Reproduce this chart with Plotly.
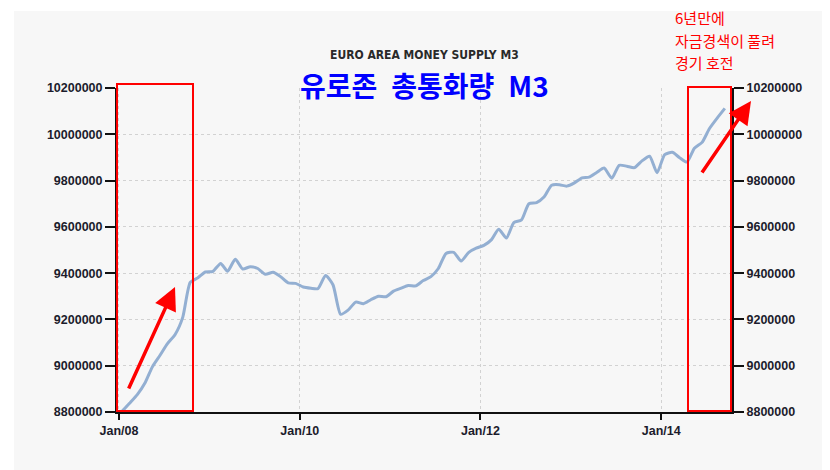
import plotly.graph_objects as go
import pandas as pd

# ---- data (monthly, Jan 2008 - Sep 2014), EUR millions ----
m3_values = [
    8805, 8840, 8875, 8925, 8995, 9045, 9095, 9135, 9210, 9360, 9380, 9405,
    9408, 9442, 9408, 9460, 9418, 9428, 9420, 9395, 9404, 9385, 9358, 9356,
    9340, 9335, 9333, 9390, 9350, 9222, 9240, 9275, 9268, 9285, 9300, 9298,
    9322, 9335, 9347, 9345, 9368, 9385, 9420, 9485, 9490, 9452, 9490, 9508,
    9520, 9545, 9590, 9552, 9618, 9630, 9700, 9705, 9730, 9780, 9782, 9776,
    9790, 9812, 9815, 9835, 9854, 9810, 9866, 9862, 9856, 9885, 9905, 9834,
    9912, 9922, 9900, 9880, 9940, 9965, 10025, 10070, 10112,
]
m3_values = [v * 1000 for v in m3_values]
dates = pd.date_range("2008-01-01", periods=len(m3_values), freq="MS") + pd.Timedelta(days=14)

y_ticks = [8800000, 9000000, 9200000, 9400000, 9600000, 9800000, 10000000, 10200000]
x_ticks = ["2008-01-01", "2010-01-01", "2012-01-01", "2014-01-01"]
x_tick_labels = ["Jan/08", "Jan/10", "Jan/12", "Jan/14"]

title_en = "EURO AREA MONEY SUPPLY M3"
title_ko = "유로존\u2002총통화량\u2002M3"
note_lines = ["6년만에", "자금경색이 풀려", "경기 호전"]

# ---- layout helpers (reference pixel -> paper) ----
W, H = 830, 470
OFF = 8  # page body margin offset
FW, FH = W + OFF, H + OFF
L, R, T, B = 117, 732, 88, 412


def px(p):
    return (p - L) / (R - L)


def py(p):
    return (B - p) / (B - T)


fig = go.Figure()
fig.add_trace(go.Scatter(
    x=dates, y=m3_values, mode="lines",
    line=dict(color="#93AFD2", width=3, shape="spline", smoothing=0.6),
    hoverinfo="x+y", showlegend=False,
))
fig.add_trace(go.Scatter(
    x=dates, y=m3_values, mode="lines", yaxis="y2",
    line=dict(color="rgba(0,0,0,0)", width=0), hoverinfo="skip", showlegend=False,
))

tickfont = dict(family="Liberation Sans", size=12.5, color="#1c1c2c", weight="bold")

fig.update_layout(
    width=FW, height=FH,
    margin=dict(l=L - OFF, r=FW - (R - OFF), t=T - OFF, b=FH - (B - OFF), pad=0),
    paper_bgcolor="#F7F7F7", plot_bgcolor="#F7F7F7",
    xaxis=dict(
        type="date", range=["2007-12-24", "2014-10-14"],
        tickvals=x_ticks, ticktext=x_tick_labels,
        showgrid=True, gridcolor="#D2D2D2", griddash="dot", gridwidth=1,
        showline=True, linecolor="#111", linewidth=2,
        ticks="outside", ticklen=6, tickwidth=2, tickcolor="#111",
        tickfont=tickfont, zeroline=False,
    ),
    yaxis=dict(
        range=[8800000, 10200000], tickvals=y_ticks,
        ticktext=[str(v) for v in y_ticks],
        showgrid=True, gridcolor="#D2D2D2", griddash="dot", gridwidth=1,
        showline=True, linecolor="#111", linewidth=2,
        ticks="outside", ticklen=10, tickwidth=2, tickcolor="#111",
        tickfont=tickfont, zeroline=False,
    ),
    yaxis2=dict(
        range=[8800000, 10200000], tickvals=y_ticks,
        ticktext=[str(v) for v in y_ticks],
        overlaying="y", side="right", showgrid=False,
        showline=True, linecolor="#111", linewidth=2,
        ticks="outside", ticklen=10, tickwidth=2, tickcolor="#111",
        tickfont=tickfont, zeroline=False,
    ),
)

shapes = [
    # white strips outside the gray panel
    dict(type="rect", xref="paper", yref="paper", x0=px(0), x1=px(W + 20), y0=py(0), y1=py(11),
         fillcolor="white", line=dict(width=0), layer="below"),
    dict(type="rect", xref="paper", yref="paper", x0=px(0), x1=px(14), y0=py(0), y1=py(H + 20),
         fillcolor="white", line=dict(width=0), layer="below"),
    # red highlight boxes
    dict(type="rect", xref="paper", yref="paper", x0=px(117), x1=px(193), y0=py(411), y1=py(84),
         line=dict(color="#FF0000", width=2), fillcolor="rgba(0,0,0,0)", layer="above"),
    dict(type="rect", xref="paper", yref="paper", x0=px(688), x1=px(731), y0=py(411), y1=py(87),
         line=dict(color="#FF0000", width=2), fillcolor="rgba(0,0,0,0)", layer="above"),
]
fig.update_layout(shapes=shapes)

annotations = [
    dict(text=title_en, x=px(424), y=py(55), xref="paper", yref="paper", showarrow=False,
         xanchor="center", yanchor="middle",
         font=dict(family="DejaVu Sans Condensed", size=12, color="#2a2a2a", weight="bold")),
    dict(text=title_ko, x=px(424), y=py(85), xref="paper", yref="paper",
         showarrow=False, xanchor="center", yanchor="middle",
         font=dict(family="Noto Sans CJK KR", size=28, color="#0000FF", weight="bold")),
    # arrows
    dict(x=px(175), y=py(287), xref="paper", yref="paper", ax=128 - 175, ay=390 - 287,
         axref="pixel", ayref="pixel", text="", showarrow=True, arrowhead=2, arrowsize=1.3,
         arrowwidth=3.5, arrowcolor="#FF0000"),
    dict(x=px(751), y=py(101), xref="paper", yref="paper", ax=701 - 751, ay=174 - 101,
         axref="pixel", ayref="pixel", text="", showarrow=True, arrowhead=2, arrowsize=1.3,
         arrowwidth=3.5, arrowcolor="#FF0000"),
]
# red note, one annotation per line
for line_text, yc in zip(note_lines, [18, 40, 62]):
    annotations.append(dict(
        text=line_text, x=px(673), y=py(yc), xref="paper", yref="paper", showarrow=False,
        xanchor="left", yanchor="middle",
        font=dict(family="Noto Sans CJK KR", size=15, color="#FF0000"),
    ))
fig.update_layout(annotations=annotations)

fig.write_html("out.html")
